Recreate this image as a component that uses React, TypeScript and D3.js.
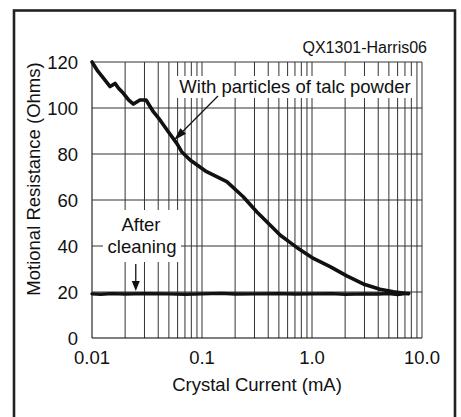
import React from "react";
import * as d3 from "d3";

const xTickValues = [0.01, 0.1, 1, 10];
const xTickLabels = ["0.01", "0.1", "1.0", "10.0"];
const yTickValues = [0, 20, 40, 60, 80, 100, 120];

// Crystal current (mA) and motional resistance (Ohms), with talc powder
const talcCurrent = [0.01, 0.0113, 0.0127, 0.0146, 0.0162, 0.0175, 0.0193, 0.0215, 0.0238, 0.0273, 0.031, 0.0361, 0.0415, 0.0494, 0.059, 0.0653, 0.078, 0.11, 0.168, 0.237, 0.314, 0.445, 0.512, 0.63, 0.727, 1.03, 1.46, 2.07, 2.92, 4.15, 5.5, 7.5];
const talcResistance = [120, 116, 113, 109.3, 110.7, 108.5, 106.4, 103.5, 101.7, 103.5, 103.5, 98.4, 94.8, 89.7, 84.6, 81, 77.4, 72.3, 68, 61.4, 54.9, 47.7, 44.8, 41.6, 39.4, 34.6, 31, 27, 23.5, 21.2, 20.1, 19.2];

// After cleaning
const cleanCurrent = [0.01, 0.012, 0.015, 0.02, 0.03, 0.05, 0.07, 0.1, 0.15, 0.2, 0.3, 0.5, 0.7, 1, 1.5, 2, 3, 4, 5, 6, 7, 7.6];
const cleanResistance = [19.2, 19.0, 19.3, 19.1, 19.3, 19.2, 19.0, 19.2, 19.4, 19.1, 19.2, 19.3, 19.1, 19.2, 19.3, 19.0, 19.2, 19.1, 19.3, 18.9, 19.3, 19.4];

const FONT = "'Liberation Sans', Arial, Helvetica, sans-serif";

export default function App() {
  const W = 461, H = 417;
  const left = 92, right = 422, top = 62, bottom = 338;
  const x = d3.scaleLog().domain([0.01, 10]).range([left, right]);
  const y = d3.scaleLinear().domain([0, 120]).range([bottom, top]);

  const gridX: number[] = [];
  [0.01, 0.1, 1].forEach((d) => {
    for (let k = 1; k <= 9; k++) gridX.push(d * k);
  });
  gridX.push(10);

  const line = d3
    .line<[number, number]>()
    .x((d) => x(d[0]))
    .y((d) => y(d[1]))
    .curve(d3.curveLinear);

  const talcData = talcCurrent.map((c, i) => [c, talcResistance[i]] as [number, number]);
  const cleanData = cleanCurrent.map((c, i) => [c, cleanResistance[i]] as [number, number]);

  // talc arrow
  const tip = [x(0.0557), y(86)];
  const start = [x(0.1398), y(105.2)];
  const dx = tip[0] - start[0], dy = tip[1] - start[1];
  const len = Math.hypot(dx, dy);
  const ux = dx / len, uy = dy / len;
  const hl = 13, hw = 4;
  const bx = tip[0] - hl * ux, by = tip[1] - hl * uy;
  const head = `${tip[0]},${tip[1]} ${bx + hw * uy},${by - hw * ux} ${bx - hw * uy},${by + hw * ux}`;

  // after cleaning arrow
  const ax = x(0.025);
  const aTip = y(20);

  return (
    <svg width={W} height={H} style={{ position: "absolute", left: 0, top: 0, background: "#fff" }} fontFamily={FONT}>
      <rect x={0} y={0} width={W} height={H} fill="#fff" />
      {/* outer frame */}
      <rect x={14} y={10.5} width={441} height={500} fill="none" stroke="#222" strokeWidth={2.6} />

      {/* grid */}
      {gridX.map((v, i) => (
        <line key={"gx" + i} x1={x(v)} x2={x(v)} y1={top} y2={bottom} stroke={i === 0 ? "#000" : "#333"} strokeWidth={1} />
      ))}
      {yTickValues.map((v) => (
        <line key={"gy" + v} x1={left} x2={right} y1={y(v)} y2={y(v)} stroke={v === 0 ? "#000" : "#333"} strokeWidth={1} />
      ))}

      {/* white boxes behind annotations */}
      <rect x={174} y={76} width={242} height={22} fill="#fff" />
      <rect x={103} y={210} width={78} height={52} fill="#fff" />

      {/* curves */}
      <path d={line(cleanData) || ""} fill="none" stroke="#111" strokeWidth={3.4} strokeLinejoin="round" strokeLinecap="round" />
      <path d={line(talcData) || ""} fill="none" stroke="#111" strokeWidth={3.6} strokeLinejoin="round" strokeLinecap="round" />

      {/* ticks labels */}
      {xTickValues.map((v, i) => (
        <text key={"xt" + v} x={x(v)} y={364} textAnchor="middle" fontSize={18.5} fill="#111">
          {xTickLabels[i]}
        </text>
      ))}
      {yTickValues.map((v) => (
        <text key={"yt" + v} x={78} y={y(v) + 6.6} textAnchor="end" fontSize={18.5} fill="#111">
          {v}
        </text>
      ))}

      {/* axis titles */}
      <text x={(left + right) / 2} y={391} textAnchor="middle" fontSize={18.5} fill="#111">
        Crystal Current (mA)
      </text>
      <text transform={`translate(40,179) rotate(-90)`} textAnchor="middle" fontSize={18.5} fill="#111">
        Motional Resistance (Ohms)
      </text>

      {/* title */}
      <text x={427} y={53} textAnchor="end" fontSize={16} fill="#111">
        QX1301-Harris06
      </text>

      {/* annotations */}
      <text x={295} y={93} textAnchor="middle" fontSize={18.5} fill="#111">
        With particles of talc powder
      </text>
      <line x1={start[0]} y1={start[1]} x2={bx} y2={by} stroke="#111" strokeWidth={1.2} />
      <polygon points={head} fill="#111" />

      <text x={141} y={230.6} textAnchor="middle" fontSize={18.5} fill="#111">
        After
      </text>
      <text x={142} y={252.6} textAnchor="middle" fontSize={18.5} fill="#111">
        cleaning
      </text>
      <line x1={ax} x2={ax} y1={264} y2={aTip - 9} stroke="#111" strokeWidth={1.3} />
      <polygon points={`${ax - 4},${aTip - 11} ${ax + 4},${aTip - 11} ${ax},${aTip - 1}`} fill="#111" />
    </svg>
  );
}
